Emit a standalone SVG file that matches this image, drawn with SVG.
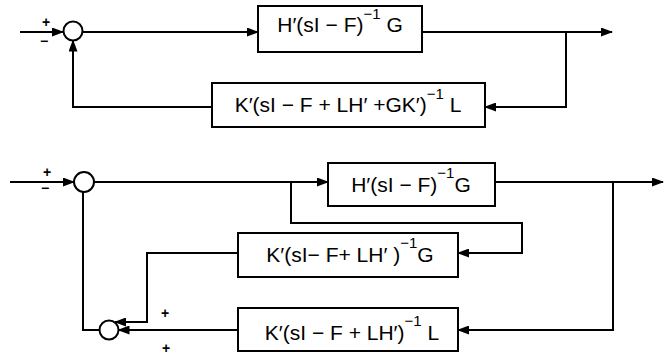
<svg xmlns="http://www.w3.org/2000/svg" width="670" height="358" viewBox="0 0 670 358">
<style>
.box{fill:#fff;stroke:#000;stroke-width:2}
.sum{fill:#fff;stroke:#000;stroke-width:2}
.ln{fill:none;stroke:#000;stroke-width:2}
.t{font-family:"Liberation Sans","DejaVu Sans",sans-serif;font-size:21px;fill:#000;text-anchor:middle}
.sup{font-size:15px}
.sg{font-family:"Liberation Sans","DejaVu Sans",sans-serif;font-size:14px;font-weight:bold;fill:#000;text-anchor:middle}
</style>
<defs>
<marker id="ar" markerWidth="12" markerHeight="9" refX="11" refY="4.5" orient="auto" markerUnits="userSpaceOnUse">
<path d="M0,0 L12,4.5 L0,9 Z" fill="#000"/>
</marker>
</defs>
<rect width="670" height="358" fill="#fff"/>
<g id="connectors">
<path class="ln" d="M20,32 H63" marker-end="url(#ar)"/>
<path class="ln" d="M82.5,32 H258" marker-end="url(#ar)"/>
<path class="ln" d="M422,32 H612" marker-end="url(#ar)"/>
<path class="ln" d="M566,32 V107 H485" marker-end="url(#ar)"/>
<path class="ln" d="M212,107 H73 V40.5" marker-end="url(#ar)"/>
<path class="ln" d="M10,182 H74" marker-end="url(#ar)"/>
<path class="ln" d="M94,182 H328" marker-end="url(#ar)"/>
<path class="ln" d="M495,182 H663" marker-end="url(#ar)"/>
<path class="ln" d="M291,182 V223 H522 V253 H458" marker-end="url(#ar)"/>
<path class="ln" d="M238,253 H147 V322 H115" marker-end="url(#ar)"/>
<path class="ln" d="M613,182 V330 H458" marker-end="url(#ar)"/>
<path class="ln" d="M238,330 H118.5" marker-end="url(#ar)"/>
<path class="ln" d="M99.5,330 H83 V192"/>
</g>
<g id="sum1">
<circle class="sum" cx="73" cy="31" r="9.5"/>
<text class="sg" x="46" y="27">+</text>
<text class="sg" x="44" y="46">−</text>
</g>
<g id="box1">
<rect class="box" x="258" y="6" width="164" height="46"/>
<text class="t" x="340" y="32">H′(sI − F)<tspan class="sup" dy="-13">−1</tspan><tspan dy="13"> G</tspan></text>
</g>
<g id="box2">
<rect class="box" x="212" y="83" width="273" height="44"/>
<text class="t" x="348" y="112">K′(sI − F + LH′ +GK′)<tspan class="sup" dy="-13">−1</tspan><tspan dy="13"> L</tspan></text>
</g>
<g id="sum2">
<circle class="sum" cx="84" cy="182" r="10"/>
<text class="sg" x="47" y="177">+</text>
<text class="sg" x="45" y="193">−</text>
</g>
<g id="boxH">
<rect class="box" x="328" y="163" width="167" height="43"/>
<text class="t" x="411" y="192">H′(sI − F)<tspan class="sup" dy="-14">−1</tspan><tspan dy="14">G</tspan></text>
</g>
<g id="boxK1">
<rect class="box" x="238" y="233" width="220" height="44"/>
<text class="t" x="350" y="262">K′(sI− F+ LH′ )<tspan class="sup" dy="-14">−1</tspan><tspan dy="14">G</tspan></text>
</g>
<g id="boxK2">
<rect class="box" x="238" y="308" width="220" height="43"/>
<text class="t" x="352" y="340">K′(sI − F + LH′)<tspan class="sup" dy="-14">−1</tspan><tspan dy="14"> L</tspan></text>
</g>
<g id="sum3">
<circle class="sum" cx="109" cy="330" r="9.5"/>
<text class="sg" x="165" y="318">+</text>
<text class="sg" x="166" y="353">+</text>
</g>
</svg>
